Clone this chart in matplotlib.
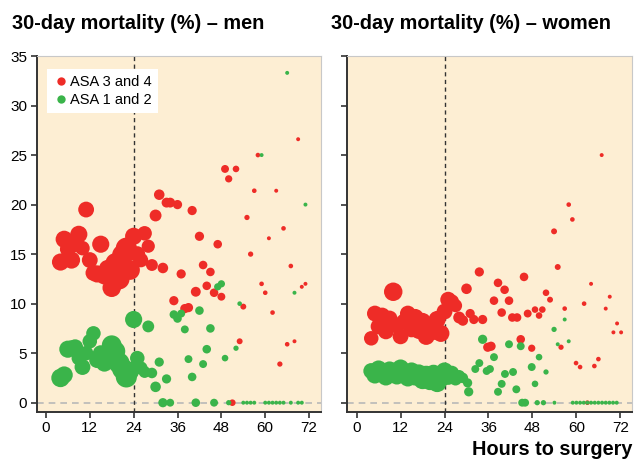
import matplotlib
matplotlib.use('Agg')
import matplotlib.pyplot as plt
from matplotlib.lines import Line2D

plt.rcParams['font.family'] = ['Liberation Sans', 'DejaVu Sans']

# ---- data: hours to surgery, 30-day mortality (%), relative bubble size ----
men_red_h = [4, 5, 6, 7, 8, 9, 10, 11, 12, 13, 14, 15, 16, 17, 18, 19, 20, 21, 22, 23, 24,
             25, 26, 27, 28, 29, 30, 31, 32, 33, 34, 35, 36, 37, 38, 39, 40, 41, 42, 43, 44,
             45, 46, 47, 48, 49, 50, 51, 52, 53, 54, 55, 56, 57, 58, 59, 60, 61, 62, 63, 64,
             65, 66, 67, 68, 69, 70, 71]
men_red_y = [14.2, 16.5, 15.5, 14.4, 16.0, 17.0, 15.6, 19.5, 14.4, 13.1, 13.0, 16.0, 12.8, 13.5,
             11.6, 14.1, 12.5, 14.9, 15.6, 13.4, 16.8, 15.0, 14.4, 17.1, 15.8, 13.9, 18.9, 21.0,
             13.6, 20.2, 20.2, 10.3, 20.0, 13.0, 9.5, 9.6, 19.4, 11.2, 16.8, 13.9, 11.8, 13.2,
             11.1, 16.0, 10.7, 23.6, 22.6, 0.0, 23.6, 6.2, 9.7, 18.7, 15.0, 21.4, 25.0, 12.0,
             11.1, 16.6, 9.1, 21.4, 3.9, 17.6, 5.9, 13.8, 6.2, 26.6, 11.7, 12.0]
men_red_d = [13, 13, 12, 13, 12, 13, 11, 12, 12, 12, 13, 13, 13, 14, 14, 15, 16, 16, 16, 15, 13,
             12, 11, 11, 10, 9, 9, 8, 8, 7.5, 7.5, 7, 7, 7, 7, 7, 7, 7.5, 7, 6.5, 6.5,
             6.5, 6.5, 6.5, 6, 6, 5.5, 5, 5, 4.5, 4.5, 4, 4, 3.5, 3.5, 3.5, 3.5, 3, 3.5, 3, 4,
             3.5, 3.5, 3.5, 3, 3, 3, 3]

men_green_h = [4, 5, 6, 7, 8, 9, 10, 11, 12, 13, 14, 15, 16, 17, 18, 19, 20, 21, 22, 23, 24,
               25, 26, 27, 28, 29, 30, 31, 32, 33, 34, 35, 36, 37, 38, 39, 40, 41, 42, 43, 44,
               45, 46, 47, 48, 49, 50, 52, 53, 54, 55, 56, 57, 59, 60, 61, 62, 63, 64, 65, 66,
               67, 68, 69, 70, 71]
men_green_y = [2.5, 2.8, 5.4, 5.5, 5.6, 4.5, 3.6, 5.0, 6.2, 7.0, 4.3, 5.0, 4.0, 4.8, 5.8, 5.2,
               4.0, 3.4, 2.6, 3.2, 8.4, 4.5, 3.5, 3.1, 7.7, 3.0, 1.6, 4.1, 0.0, 2.4, 0.0, 8.9,
               8.5, 9.0, 7.4, 4.4, 2.6, 0.0, 9.3, 3.9, 5.4, 7.5, 0.0, 11.7, 12.0, 4.5, 0.0, 5.5,
               10.0, 0.0, 0.0, 0.0, 0.0, 25.0, 0.0, 0.0, 0.0, 0.0, 0.0, 0.0, 33.3, 0.0, 11.1,
               0.0, 0.0, 20.0]
men_green_d = [14, 13, 13, 12, 12, 11, 12, 11, 11, 11, 12, 12, 13, 14, 15, 15, 16, 16, 16, 14, 13,
               11, 10, 9, 9, 8, 8, 7, 7, 7, 6, 6.5, 6.5, 6, 6, 6, 6.5, 6.5, 6.5, 6, 6.5,
               6.5, 6, 5.5, 5.5, 5, 4, 4, 3.5, 3, 3, 3, 3, 3, 3, 3, 3, 3, 3, 3, 3,
               3, 3, 3, 3, 3]

women_red_h = [4, 5, 6, 7, 8, 9, 10, 11, 12, 13, 14, 15, 16, 17, 18, 19, 20, 21, 22, 23, 24,
               25, 26, 27, 28, 29, 30, 31, 32, 33.5, 34.4, 35.8, 36.7, 37.5, 38.6, 39.6, 40.4,
               41.6, 42.5, 43.8, 44.8, 45.7, 46.7, 47.8, 48.7, 49.8, 50.7, 51.7, 52.8, 53.9,
               54.9, 55.8, 56.8, 57.9, 58.9, 59.9, 61.0, 62.1, 63.0, 64.0, 64.9, 66.0, 66.9,
               68.0, 69.1, 70.1, 71.1, 72.2]
women_red_y = [6.5, 9.0, 7.7, 8.8, 7.2, 8.5, 11.2, 7.8, 6.7, 8.2, 9.0, 7.4, 8.6, 7.3, 8.2, 6.7,
               7.8, 7.2, 8.4, 7.0, 9.2, 10.4, 10.2, 9.8, 8.6, 8.3, 11.5, 9.0, 8.4, 13.2, 8.4,
               5.6, 5.7, 10.3, 12.1, 9.1, 11.4, 10.3, 8.6, 8.6, 6.4, 12.7, 9.0, 5.5, 9.4, 8.8,
               9.4, 11.1, 10.4, 17.3, 13.7, 5.6, 9.5, 20.0, 18.5, 4.0, 3.6, 10.0, 0.0, 12.0,
               3.7, 4.4, 25.0, 9.5, 10.7, 7.1, 8.0, 7.1]
women_red_d = [11, 12, 12, 12, 12, 12, 14, 12, 12, 12, 12, 12, 13, 13, 13, 13, 13, 13, 13, 13, 12,
               12, 11, 10, 9, 8, 8, 7, 7, 7, 7, 7, 7, 6.5, 6.5, 6.5, 6.5,
               6.5, 6.5, 6.5, 6.5, 6.5, 6, 5.5, 5, 5, 5, 5, 4.5, 4.5,
               4.5, 4, 3.5, 3.5, 3.5, 3.5, 3.5, 3.5, 3.5, 3, 3.5, 3.5, 3,
               3, 3, 3, 3, 3]

women_green_h = [4, 5, 6, 7, 8, 9, 10, 11, 12, 13, 14, 15, 16, 17, 18, 19, 20, 21, 22, 23, 24,
                 25, 26, 27, 28, 29, 30.3, 30.6, 32.4, 33.5, 34.4, 35.5, 36.4, 37.5, 38.6, 39.6,
                 40.5, 41.6, 42.7, 43.6, 44.8, 45.2, 46.0, 47.8, 48.7, 49.3, 49.8, 51.0, 51.7,
                 53.9, 54.0, 54.9, 56.8, 57.9, 59, 60, 61, 62, 63, 64, 65, 66, 67, 68, 69, 70, 71]
women_green_y = [3.2, 2.8, 3.4, 3.0, 2.6, 3.3, 3.1, 2.7, 3.5, 2.9, 2.5, 3.2, 2.6, 3.0, 2.3, 2.8,
                 2.2, 2.9, 2.0, 2.5, 3.2, 2.6, 3.0, 2.4, 2.7, 2.5, 2.0, 1.1, 3.4, 4.0, 6.4, 3.2,
                 3.4, 4.6, 1.1, 1.9, 2.9, 5.9, 3.1, 1.35, 5.7, 0.0, 0.0, 3.6, 1.9, 0.0, 4.6, 0.0,
                 3.1, 7.4, 0.0, 5.9, 8.4, 6.2, 0.0, 0.0, 0.0, 0.0, 0.0, 0.0, 0.0, 0.0, 0.0, 0.0,
                 0.0, 0.0, 0.0]
women_green_d = [12, 13, 13, 13, 13, 13, 14, 13, 13, 13, 13, 13, 13, 13, 14, 14, 14, 14, 14, 14, 13,
                 12, 11, 10, 9, 8, 7, 7, 6, 6, 7, 6, 6, 6, 6, 6,
                 6, 6, 6, 6, 6, 6, 6, 6, 5, 4, 5, 4, 4,
                 4, 3, 3, 3, 3, 3, 3, 3, 3, 3, 3, 3, 3, 3, 3, 3, 3, 3]

RED = '#ee2c27'
GREEN = '#3ab44a'
BG = '#fdeed3'


def area(sizes):
    # relative size -> scatter marker area in points^2
    return [(d * 0.95) ** 2 for d in sizes]


fig = plt.figure(figsize=(6.34, 4.63), dpi=100)
ax1 = fig.add_axes([0.058, 0.111, 0.448, 0.768])
ax2 = fig.add_axes([0.548, 0.111, 0.449, 0.768])

panels = [
    (ax1, men_red_h, men_red_y, men_red_d, men_green_h, men_green_y, men_green_d),
    (ax2, women_red_h, women_red_y, women_red_d, women_green_h, women_green_y, women_green_d),
]

for ax, rh, ry, rd, gh, gy, gd in panels:
    ax.set_facecolor(BG)
    ax.axhline(0, color='#b8b8b8', lw=1.2, ls=(0, (4, 3)), zorder=1)
    ax.axvline(24, color='#333333', lw=1.0, ls=(0, (3, 2.5)), zorder=1)
    ax.scatter(rh, ry, s=area(rd), color=RED, edgecolors='none', zorder=2)
    ax.scatter(gh, gy, s=area(gd), color=GREEN, edgecolors='none', zorder=3)
    ax.set_xlim(-2.5, 75.2)
    ax.set_ylim(-0.9, 35)
    ax.set_xticks([0, 12, 24, 36, 48, 60, 72])
    ax.set_yticks([0, 5, 10, 15, 20, 25, 30, 35])
    for side in ['top', 'right']:
        ax.spines[side].set_color('#c8c8c8')
        ax.spines[side].set_linewidth(0.8)
    for side in ['left', 'bottom']:
        ax.spines[side].set_color('#333333')
        ax.spines[side].set_linewidth(1.4)
    ax.tick_params(direction='out', length=4, width=1.2, color='#333333',
                   labelsize=11, pad=3)

ax2.tick_params(axis='y', labelleft=False)

fig.text(0.019, 0.937, '30-day mortality (%) \u2013 men', fontsize=14.3, fontweight='bold',
         ha='left', va='baseline')
fig.text(0.522, 0.937, '30-day mortality (%) \u2013 women', fontsize=14.3, fontweight='bold',
         ha='left', va='baseline')
fig.text(0.997, 0.017, 'Hours to surgery', fontsize=14.3, fontweight='bold',
         ha='right', va='baseline')

handles = [
    Line2D([], [], marker='o', ls='none', color=RED, markersize=6, markeredgewidth=0),
    Line2D([], [], marker='o', ls='none', color=GREEN, markersize=6, markeredgewidth=0),
]
leg = ax1.legend(handles, ['ASA 3 and 4', 'ASA 1 and 2'], loc='upper left',
                 bbox_to_anchor=(0.02, 0.975), fontsize=10.5, frameon=True, fancybox=False,
                 handletextpad=0.0, handlelength=1.2, borderpad=0.4, labelspacing=0.3,
                 borderaxespad=0.3)
leg.get_frame().set_facecolor('white')
leg.get_frame().set_edgecolor('none')
leg.get_frame().set_alpha(1)

fig.savefig('out.png', dpi=100, facecolor='white')
